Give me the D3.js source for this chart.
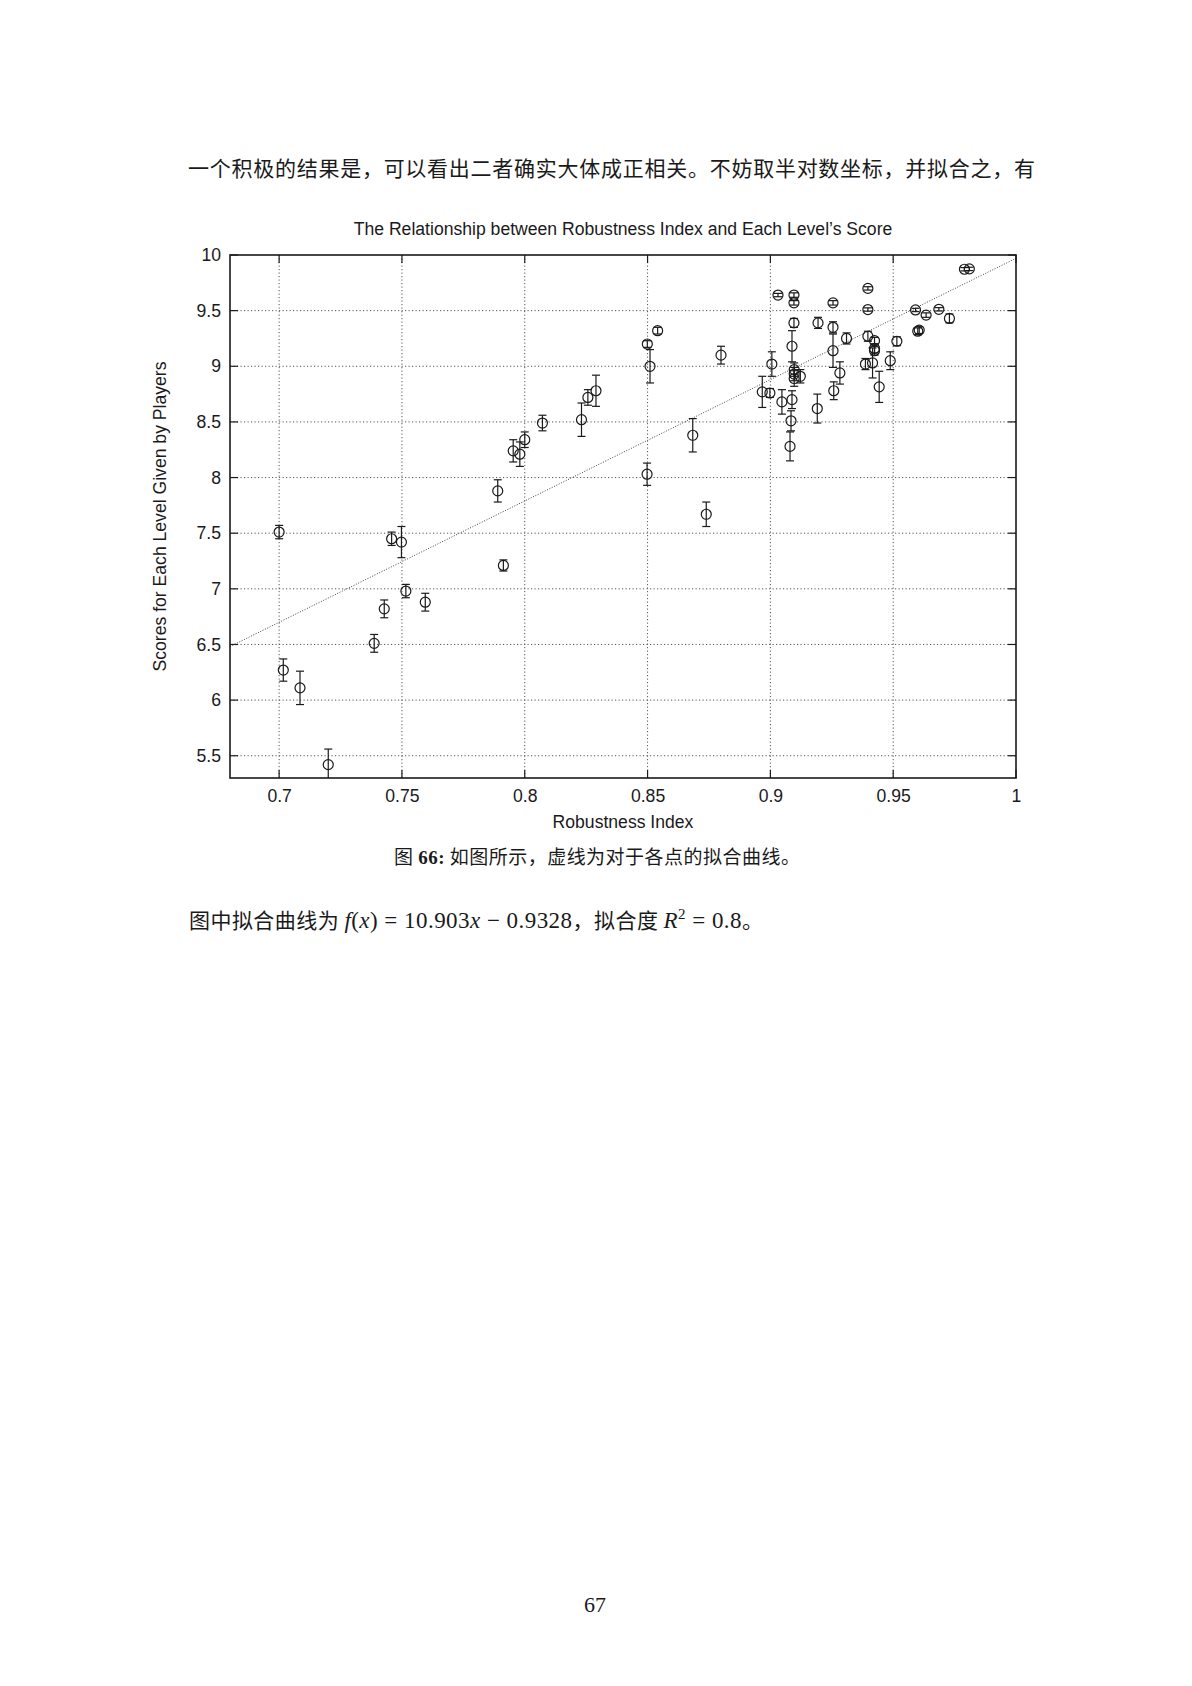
<!DOCTYPE html>
<html><head><meta charset="utf-8">
<script src="https://cdn.jsdelivr.net/npm/d3@7/dist/d3.min.js"></script>
<style>body{margin:0;background:#fff}</style>
</head><body>
<script>
// ---- data ----
const robustness = [0.700,0.7017,0.7085,0.720,0.7387,0.7428,0.7458,0.7498,0.7516,0.7595,
  0.789,0.7913,0.7953,0.798,0.800,0.8072,0.8231,0.8257,0.829,0.8498,
  0.8499,0.851,0.8541,0.8684,0.8739,0.8799,0.8967,0.8998,0.9006,0.9031,
  0.9047,0.908,0.9084,0.9088,0.9088,0.9096,0.9096,0.9096,0.9097,0.9097,
  0.9097,0.9122,0.9191,0.9194,0.9255,0.9255,0.9255,0.9258,0.9283,0.931,
  0.9387,0.9397,0.9397,0.9397,0.9416,0.9424,0.9424,0.9424,0.9443,0.9488,
  0.9515,0.9591,0.9600,0.9606,0.9634,0.9686,0.9729,0.979,0.981];
const scores = [7.51,6.27,6.11,5.42,6.51,6.82,7.45,7.42,6.98,6.88,
  7.88,7.21,8.24,8.21,8.34,8.49,8.52,8.72,8.78,8.03,
  9.20,9.00,9.32,8.38,7.67,9.10,8.77,8.76,9.02,9.64,
  8.68,8.28,8.51,8.70,9.18,9.64,9.57,9.39,8.97,8.93,
  8.89,8.91,8.62,9.39,9.57,9.35,9.14,8.78,8.94,9.25,
  9.02,9.70,9.51,9.27,9.03,9.23,9.16,9.14,8.815,9.05,
  9.225,9.506,9.315,9.325,9.46,9.512,9.43,9.872,9.875];
const errors = [0.06,0.10,0.15,0.14,0.08,0.08,0.06,0.14,0.06,0.08,
  0.10,0.05,0.10,0.11,0.07,0.07,0.15,0.07,0.14,0.10,
  0.03,0.15,0.03,0.15,0.11,0.08,0.14,0.04,0.11,0.015,
  0.11,0.13,0.09,0.08,0.14,0.02,0.02,0.04,0.06,0.06,
  0.07,0.06,0.13,0.05,0.02,0.05,0.15,0.08,0.10,0.05,
  0.05,0.015,0.015,0.045,0.135,0.03,0.04,0.04,0.14,0.08,
  0.04,0.015,0.03,0.03,0.02,0.015,0.04,0.015,0.015];
const xTicks = [0.7,0.75,0.8,0.85,0.9,0.95,1];
const xTickLabels = ["0.7","0.75","0.8","0.85","0.9","0.95","1"];
const yTicks = [5.5,6,6.5,7,7.5,8,8.5,9,9.5,10];
const yTickLabels = ["5.5","6","6.5","7","7.5","8","8.5","9","9.5","10"];
const xDomain = [0.68,1.0];
const yDomain = [5.3,10];
const fitSlope = 10.903, fitIntercept = -0.9328;

const titleText = "The Relationship between Robustness Index and Each Level\u2019s Score";
const xLabelText = "Robustness Index";
const yLabelText = "Scores for Each Level Given by Players";
const topLine = "一个积极的结果是，可以看出二者确实大体成正相关。不妨取半对数坐标，并拟合之，有";

// ---- drawing ----
const W = 1192, H = 1686;
const svg = d3.select("body").append("svg").attr("width", W).attr("height", H)
  .style("background","#fff");
const L = 230, R = 1016, T = 255, B = 778;
const x = d3.scaleLinear().domain(xDomain).range([L, R]);
const y = d3.scaleLinear().domain(yDomain).range([B, T]);
const ink = "#1a1a1a";
const sans = "'Liberation Sans', Arial, sans-serif";
const cjk = "'Noto Sans CJK SC', sans-serif";
const serif = "'Liberation Serif', 'DejaVu Serif', serif";
const fs = 17.6;

// top paragraph line
svg.append("text").attr("x",188).attr("y",176).attr("font-family",cjk).attr("font-size",21)
  .attr("fill",ink).attr("textLength",847).attr("lengthAdjust","spacing").text(topLine);

// title
svg.append("text").attr("x",(L+R)/2).attr("y",235).attr("text-anchor","middle")
  .attr("font-family",sans).attr("font-size",fs).attr("fill",ink).text(titleText);

// grid
const grid = svg.append("g").attr("stroke","#555").attr("stroke-width",1).attr("stroke-dasharray","1.2,2.3");
grid.selectAll(".gx").data(xTicks.filter(d=>d>xDomain[0]&&d<xDomain[1])).join("line")
  .attr("x1",d=>x(d)).attr("x2",d=>x(d)).attr("y1",T).attr("y2",B);
grid.selectAll(".gy").data(yTicks.filter(d=>d>yDomain[0]&&d<yDomain[1])).join("line")
  .attr("y1",d=>y(d)).attr("y2",d=>y(d)).attr("x1",L).attr("x2",R);

// inward tick marks on all sides
const tk = svg.append("g").attr("stroke",ink).attr("stroke-width",1.2);
xTicks.forEach(d=>{
  tk.append("line").attr("x1",x(d)).attr("x2",x(d)).attr("y1",B).attr("y2",B-8);
  tk.append("line").attr("x1",x(d)).attr("x2",x(d)).attr("y1",T).attr("y2",T+8);
});
yTicks.forEach(d=>{
  tk.append("line").attr("y1",y(d)).attr("y2",y(d)).attr("x1",L).attr("x2",L+8);
  tk.append("line").attr("y1",y(d)).attr("y2",y(d)).attr("x1",R).attr("x2",R-8);
});

// axes labels via d3 axes (text only)
const xAxis = d3.axisBottom(x).tickValues(xTicks).tickFormat((d,i)=>xTickLabels[i]).tickSize(0).tickPadding(0);
const gx = svg.append("g").attr("transform",`translate(0,${B})`).call(xAxis);
gx.select(".domain").remove();
gx.selectAll("text").attr("font-family",sans).attr("font-size",fs).attr("fill",ink).attr("dy",null).attr("y",24);
const yAxis = d3.axisLeft(y).tickValues(yTicks).tickFormat((d,i)=>yTickLabels[i]).tickSize(0).tickPadding(9);
const gy = svg.append("g").attr("transform",`translate(${L},0)`).call(yAxis);
gy.select(".domain").remove();
gy.selectAll("text").attr("font-family",sans).attr("font-size",fs).attr("fill",ink);

// fit line (clipped)
svg.append("clipPath").attr("id","clip").append("rect").attr("x",L).attr("y",T).attr("width",R-L).attr("height",B-T);
svg.append("line").attr("clip-path","url(#clip)")
  .attr("x1",x(xDomain[0])).attr("y1",y(fitSlope*xDomain[0]+fitIntercept))
  .attr("x2",x(xDomain[1])).attr("y2",y(fitSlope*xDomain[1]+fitIntercept))
  .attr("stroke","#444").attr("stroke-width",1).attr("stroke-dasharray","1,1.6");

// data points with error bars
const pts = robustness.map((r,i)=>({x:r,y:scores[i],e:errors[i]}));
const pg = svg.append("g").attr("clip-path","url(#clip)").attr("stroke",ink).attr("stroke-width",1.2).attr("fill","none");
const g = pg.selectAll("g").data(pts).join("g");
g.append("line").attr("x1",d=>x(d.x)).attr("x2",d=>x(d.x)).attr("y1",d=>y(d.y-d.e)).attr("y2",d=>y(d.y+d.e));
g.append("line").attr("x1",d=>x(d.x)-4).attr("x2",d=>x(d.x)+4).attr("y1",d=>y(d.y-d.e)).attr("y2",d=>y(d.y-d.e));
g.append("line").attr("x1",d=>x(d.x)-4).attr("x2",d=>x(d.x)+4).attr("y1",d=>y(d.y+d.e)).attr("y2",d=>y(d.y+d.e));
g.append("circle").attr("cx",d=>x(d.x)).attr("cy",d=>y(d.y)).attr("r",5);

// frame
svg.append("rect").attr("x",L).attr("y",T).attr("width",R-L).attr("height",B-T)
  .attr("fill","none").attr("stroke",ink).attr("stroke-width",1.6);

// axis titles
svg.append("text").attr("x",(L+R)/2).attr("y",828).attr("text-anchor","middle")
  .attr("font-family",sans).attr("font-size",fs).attr("fill",ink).text(xLabelText);
svg.append("text").attr("transform",`translate(166,${(T+B)/2}) rotate(-90)`).attr("text-anchor","middle")
  .attr("font-family",sans).attr("font-size",fs).attr("fill",ink).text(yLabelText);

// caption
const cap = svg.append("text").attr("x",394).attr("y",864).attr("font-size",19).attr("fill",ink)
  .attr("textLength",406).attr("lengthAdjust","spacing");
cap.append("tspan").attr("font-family",cjk).text("图 ");
cap.append("tspan").attr("font-family",serif).attr("font-weight","bold").text("66:");
cap.append("tspan").attr("font-family",cjk).text(" 如图所示，虚线为对于各点的拟合曲线。");

// bottom sentence
const bt = svg.append("text").attr("x",189).attr("y",928).attr("font-size",21).attr("fill",ink)
  .attr("textLength",574).attr("lengthAdjust","spacing");
bt.append("tspan").attr("font-family",cjk).text("图中拟合曲线为 ");
bt.append("tspan").attr("font-family",serif).attr("font-size",23).attr("font-style","italic").text("f");
bt.append("tspan").attr("font-family",serif).attr("font-size",23).text("(");
bt.append("tspan").attr("font-family",serif).attr("font-size",23).attr("font-style","italic").text("x");
bt.append("tspan").attr("font-family",serif).attr("font-size",23).text(") = 10.903");
bt.append("tspan").attr("font-family",serif).attr("font-size",23).attr("font-style","italic").text("x");
bt.append("tspan").attr("font-family",serif).attr("font-size",23).text(" \u2212 0.9328");
bt.append("tspan").attr("font-family",cjk).text("，拟合度 ");
bt.append("tspan").attr("font-family",serif).attr("font-size",23).attr("font-style","italic").text("R");
bt.append("tspan").attr("font-family",serif).attr("font-size",15).attr("dy",-9).text("2");
bt.append("tspan").attr("font-family",serif).attr("font-size",23).attr("dy",9).text(" = 0.8");
bt.append("tspan").attr("font-family",cjk).text("。");

// page number
svg.append("text").attr("x",595).attr("y",1612).attr("text-anchor","middle")
  .attr("font-family",serif).attr("font-size",22).attr("fill",ink).text("67");
</script>
</body></html>
